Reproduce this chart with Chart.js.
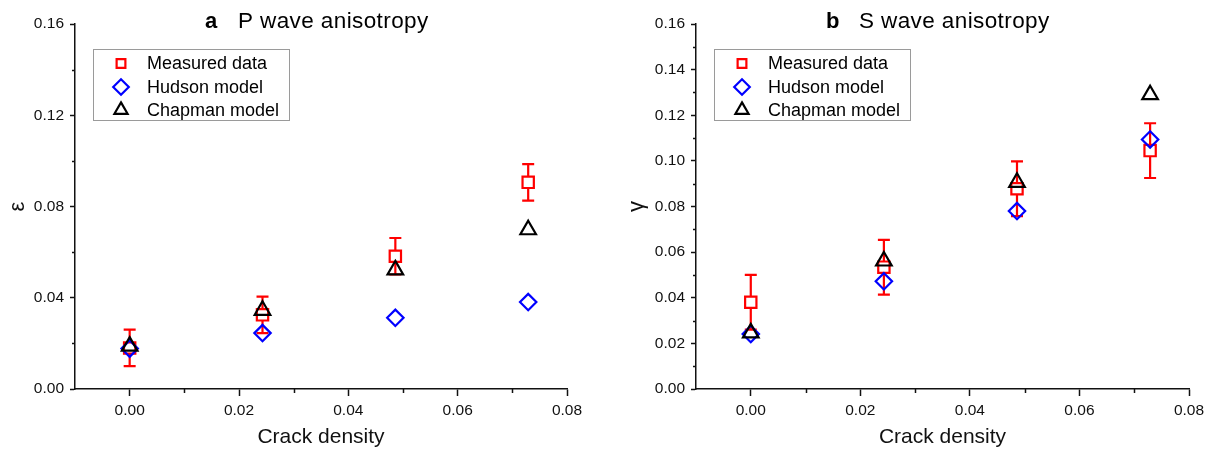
<!DOCTYPE html>
<html><head><meta charset="utf-8">
<script src="https://cdn.jsdelivr.net/npm/chart.js@4.4.0/dist/chart.umd.min.js"></script>
<style>
html,body{margin:0;padding:0;background:#fff;width:1215px;height:451px;overflow:hidden}
#pa{position:absolute;left:0;top:0}
#pb{position:absolute;left:621px;top:0}
</style></head><body>
<canvas id="pa" width="621" height="451"></canvas>
<canvas id="pb" width="594" height="451"></canvas>
<script>
// ---- data ----
const crackDensity = [0, 0.0243, 0.0486, 0.0729];
const seriesNames = ['Measured data', 'Hudson model', 'Chapman model'];

const pMeasured    = [0.0180, 0.0325, 0.0582, 0.0906];
const pMeasuredErr = [0.008, 0.008, 0.008, 0.008];
const pHudson      = [0.0177, 0.0245, 0.0312, 0.0381];
const pChapman     = [0.0188, 0.0345, 0.0522, 0.0698];

const sMeasured    = [0.0380, 0.0534, 0.0878, 0.1045];
const sMeasuredErr = [0.012, 0.012, 0.012, 0.012];
const sHudson      = [0.0241, 0.0472, 0.0780, 0.1094];
const sChapman     = [0.0246, 0.0561, 0.0906, 0.1290];

const xTickLabels  = ['0.00', '0.02', '0.04', '0.06', '0.08'];
const pYTickLabels = ['0.00', '0.04', '0.08', '0.12', '0.16'];
const sYTickLabels = ['0.00', '0.02', '0.04', '0.06', '0.08', '0.10', '0.12', '0.14', '0.16'];

// ---- styling ----
const FONT = '"Liberation Sans", Arial, Helvetica, sans-serif';
const AXIS = '#111';
const RED = '#ff0000', BLUE = '#0000ff', BLACK = '#000000';

function fmt(v){ return Number(v).toFixed(2); }

function markerPath(ctx, style, x, y, r){
  ctx.beginPath();
  if (style === 'rect') { const h = r / Math.SQRT2; ctx.rect(x - h, y - h, 2*h, 2*h); }
  else if (style === 'rectRot') { ctx.moveTo(x - r, y); ctx.lineTo(x, y - r); ctx.lineTo(x + r, y); ctx.lineTo(x, y + r); ctx.closePath(); }
  else {
    for (let i = 0; i < 3; i++) {
      const a = i * 2 * Math.PI / 3;
      const px = x + Math.sin(a) * r, py = y - Math.cos(a) * r;
      if (i === 0) ctx.moveTo(px, py); else ctx.lineTo(px, py);
    }
    ctx.closePath();
  }
}

const errorBars = {
  id: 'errorBars',
  beforeDatasetsDraw(chart, args, o){
    const ctx = chart.ctx, xs = chart.scales.x, ys = chart.scales.y;
    ctx.save();
    ctx.strokeStyle = RED; ctx.lineWidth = 2.2;
    o.values.forEach((v, i) => {
      const px = xs.getPixelForValue(crackDensity[i]);
      const pc = ys.getPixelForValue(v);
      const pt = ys.getPixelForValue(v + o.errors[i]);
      const pbm = ys.getPixelForValue(v - o.errors[i]);
      const g = o.gap;
      ctx.beginPath();
      ctx.moveTo(px, pt); ctx.lineTo(px, pc - g);
      ctx.moveTo(px, pc + g); ctx.lineTo(px, pbm);
      ctx.moveTo(px - o.cap, pt); ctx.lineTo(px + o.cap, pt);
      ctx.moveTo(px - o.cap, pbm); ctx.lineTo(px + o.cap, pbm);
      ctx.stroke();
    });
    ctx.restore();
  }
};

const minorTicks = {
  id: 'minorTicks',
  afterDraw(chart, args, o){
    const ctx = chart.ctx;
    ctx.save();
    ctx.strokeStyle = AXIS; ctx.lineWidth = 1.5;
    const xs = chart.scales.x, ys = chart.scales.y;
    ctx.beginPath();
    xs.ticks.forEach(t => {
      if (!xTickLabels.includes(fmt(t.value)) && t.value > xs.min + 1e-9) {
        const p = Math.round(xs.getPixelForValue(t.value)) + 0.5;
        ctx.moveTo(p, xs.top); ctx.lineTo(p, xs.top + 4);
      }
    });
    ys.ticks.forEach(t => {
      if (!o.yLabels.includes(fmt(t.value))) {
        const p = Math.round(ys.getPixelForValue(t.value)) + 0.5;
        ctx.moveTo(ys.right, p); ctx.lineTo(ys.right - 3, p);
      }
    });
    ctx.stroke();
    ctx.restore();
  }
};

const panelTitle = {
  id: 'panelTitle',
  afterDraw(chart, args, o){
    const ctx = chart.ctx;
    ctx.save();
    ctx.fillStyle = '#000'; ctx.textAlign = 'left'; ctx.textBaseline = 'alphabetic';
    ctx.font = 'bold 22px ' + FONT;
    ctx.fillText(o.letter, 205, 28);
    ctx.font = '22.5px ' + FONT;
    try { ctx.letterSpacing = '0.4px'; } catch(e) {}
    ctx.fillText(o.text, 238, 28);
    ctx.restore();
  }
};

const boxLegend = {
  id: 'boxLegend',
  afterDraw(chart){
    const ctx = chart.ctx;
    ctx.save();
    ctx.strokeStyle = '#9a9a9a'; ctx.lineWidth = 1;
    ctx.strokeRect(93.5, 49.5, 196, 71);
    const rows = [63.5, 87, 110];
    const sizes = [6.2, 7.8, 7.6];
    chart.data.datasets.forEach((ds, i) => {
      ctx.strokeStyle = ds.borderColor; ctx.lineWidth = 2.2;
      markerPath(ctx, ds.pointStyle, 121, rows[i], sizes[i]);
      ctx.stroke();
      ctx.fillStyle = '#000';
      ctx.font = '18px ' + FONT;
      ctx.textBaseline = 'middle'; ctx.textAlign = 'left';
      ctx.fillText(ds.label, 147, rows[i] + 1);
    });
    ctx.restore();
  }
};

function pts(ys){ return crackDensity.map((x, i) => ({x: x, y: ys[i]})); }

function makePanel(canvasId, cfg){
  const datasets = [
    {label: seriesNames[0], data: pts(cfg.measured), pointStyle: 'rect', borderColor: RED, radius: 8, order: 3},
    {label: seriesNames[1], data: pts(cfg.hudson), pointStyle: 'rectRot', borderColor: BLUE, radius: 8.2, order: 2},
    {label: seriesNames[2], data: pts(cfg.chapman), pointStyle: 'triangle', borderColor: BLACK, radius: 9, order: 1}
  ].map(d => Object.assign({
    showLine: false, backgroundColor: 'rgba(0,0,0,0)', pointBorderWidth: 2.2, borderWidth: 2.2,
    pointBackgroundColor: 'rgba(0,0,0,0)', pointBorderColor: d.borderColor, pointRadius: d.radius, pointHoverRadius: d.radius
  }, d));

  return new Chart(document.getElementById(canvasId), {
    type: 'scatter',
    data: {datasets},
    options: {
      responsive: false, animation: false, devicePixelRatio: 1,
      layout: {padding: {left: 0, top: 24, right: cfg.rightPad, bottom: 0}},
      plugins: {
        legend: {display: false}, tooltip: {enabled: false},
        errorBars: {values: cfg.measured, errors: cfg.err, cap: 6, gap: 5.6},
        minorTicks: {yLabels: cfg.yLabels},
        panelTitle: {letter: cfg.letter, text: cfg.title}
      },
      scales: {
        x: {
          type: 'linear', min: -0.01, max: 0.08,
          afterFit: s => { s.height = 62; },
          border: {display: true, color: AXIS, width: 1.5},
          grid: {drawOnChartArea: false, drawTicks: true, tickLength: 7, tickWidth: 1.5,
                 tickColor: c => (c.tick && xTickLabels.includes(fmt(c.tick.value))) ? AXIS : 'rgba(0,0,0,0)'},
          ticks: {stepSize: 0.01, autoSkip: false, maxRotation: 0, padding: 5, color: '#111',
                  font: {family: FONT, size: 15.5},
                  callback: v => xTickLabels.includes(fmt(v)) ? fmt(v) : ''},
          title: {display: true, text: 'Crack density', color: '#111', font: {family: FONT, size: 21}, padding: {top: 0, bottom: 1}}
        },
        y: {
          type: 'linear', min: 0, max: 0.16,
          afterFit: s => { s.width = 75; },
          border: {display: true, color: AXIS, width: 1.5},
          grid: {drawOnChartArea: false, drawTicks: true, tickLength: 5, tickWidth: 1.5,
                 tickColor: c => (c.tick && cfg.yLabels.includes(fmt(c.tick.value))) ? AXIS : 'rgba(0,0,0,0)'},
          ticks: {stepSize: cfg.yStep, autoSkip: false, padding: 6, color: '#111',
                  font: {family: FONT, size: 15.5},
                  callback: v => cfg.yLabels.includes(fmt(v)) ? fmt(v) : ''},
          title: {display: true, text: cfg.yTitle, color: '#111', font: {family: FONT, size: 22}, padding: {top: cfg.yTitlePad, bottom: 0}}
        }
      }
    },
    plugins: [errorBars, minorTicks, panelTitle, boxLegend]
  });
}

makePanel('pa', {letter: 'a', title: 'P wave anisotropy', yTitle: 'ε', yTitlePad: 5,
  measured: pMeasured, err: pMeasuredErr, hudson: pHudson, chapman: pChapman,
  yStep: 0.02, yLabels: pYTickLabels, rightPad: 54});
makePanel('pb', {letter: 'b', title: 'S wave anisotropy', yTitle: 'γ', yTitlePad: 3,
  measured: sMeasured, err: sMeasuredErr, hudson: sHudson, chapman: sChapman,
  yStep: 0.01, yLabels: sYTickLabels, rightPad: 26});
</script>
</body></html>
